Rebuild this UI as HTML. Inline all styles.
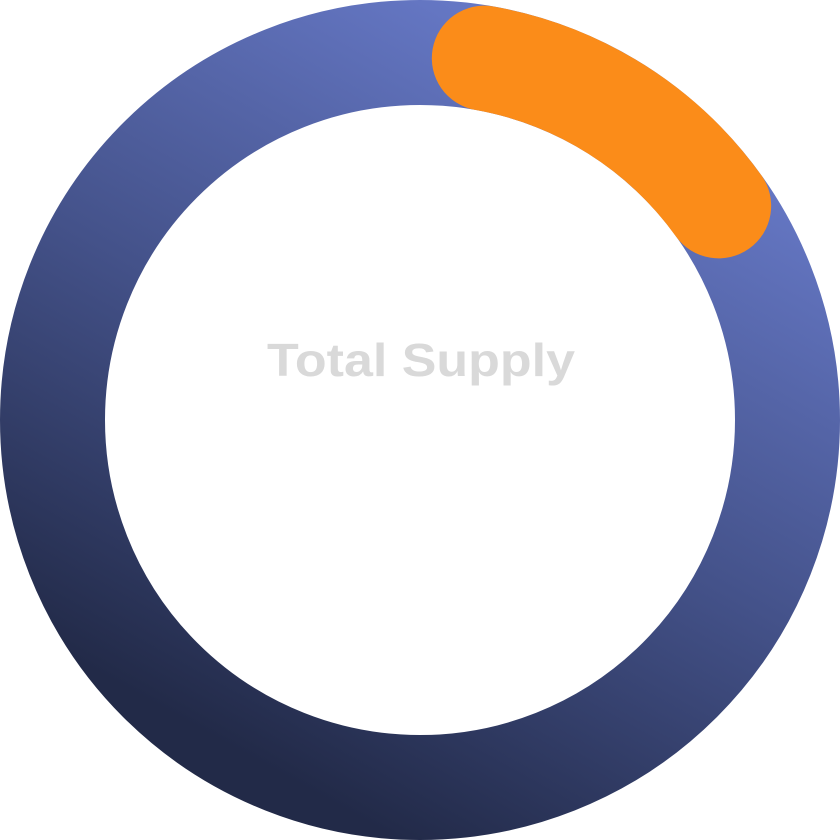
<!DOCTYPE html>
<html>
<head>
<meta charset="utf-8">
<style>
  html,body{margin:0;padding:0;background:#fff;}
  svg{display:block;}
</style>
</head>
<body>
<svg id="chart" width="840" height="840" viewBox="0 0 840 840">
  <defs>
    <linearGradient id="ringGrad" x1="0.75" y1="0.05" x2="0.25" y2="0.95">
      <stop offset="0" stop-color="#6577c4"/>
      <stop offset="0.5" stop-color="#44528a"/>
      <stop offset="1" stop-color="#222a48"/>
    </linearGradient>
  </defs>
  <circle cx="420" cy="420" r="367.5" fill="none" stroke="url(#ringGrad)" stroke-width="105"/>
  <g id="segments"></g>
  <text x="421" y="376" text-anchor="middle" textLength="308" lengthAdjust="spacingAndGlyphs" font-family="'Liberation Sans', sans-serif" font-size="46" font-weight="bold" fill="#d9d9d9">Total Supply</text>
</svg>
<script>
const segmentNames = ['highlight-segment'];
const segmentStarts = [0.028];
const segmentEnds = [0.151];
const segmentColors = ['#fb8c19'];

const cx = 420, cy = 420, r = 367.5, sw = 105;
function pt(frac){
  const a = frac * 2 * Math.PI;
  return [cx + r * Math.sin(a), cy - r * Math.cos(a)];
}
const g = document.getElementById('segments');
for (let i = 0; i < segmentNames.length; i++) {
  const [x1, y1] = pt(segmentStarts[i]);
  const [x2, y2] = pt(segmentEnds[i]);
  const large = (segmentEnds[i] - segmentStarts[i]) > 0.5 ? 1 : 0;
  const p = document.createElementNS('http://www.w3.org/2000/svg', 'path');
  p.setAttribute('d', `M${x1},${y1} A${r},${r} 0 ${large} 1 ${x2},${y2}`);
  p.setAttribute('fill', 'none');
  p.setAttribute('stroke', segmentColors[i]);
  p.setAttribute('stroke-width', sw);
  p.setAttribute('stroke-linecap', 'round');
  
  
  g.appendChild(p);
}
</script>
</body>
</html>
